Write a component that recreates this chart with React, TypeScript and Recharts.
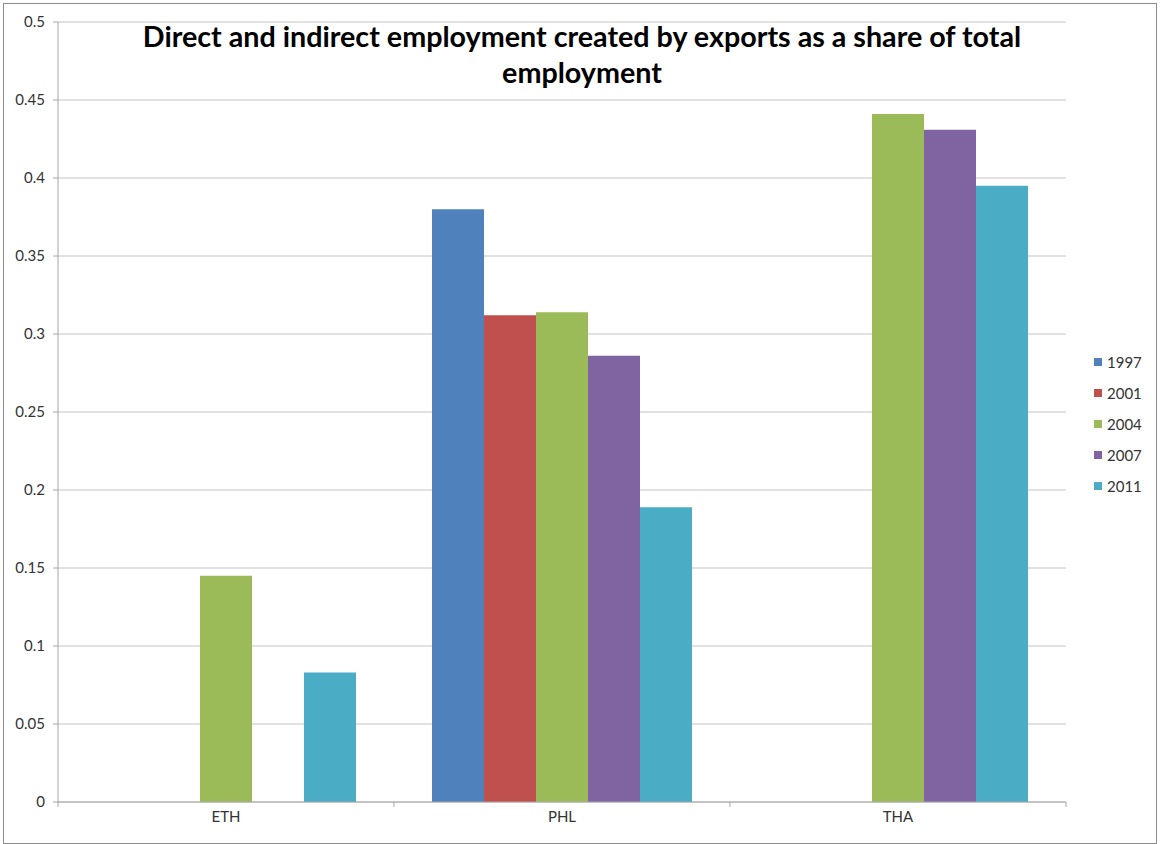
import React from 'react'
import { BarChart, Bar, XAxis, YAxis, CartesianGrid, Legend } from 'recharts'

const countries = ['ETH', 'PHL', 'THA']
const years = ['1997', '2001', '2004', '2007', '2011']
const colors = ['#4F81BD', '#C0504D', '#9BBB59', '#8064A2', '#4BACC6']

// one array per year, in the order of countries (null = no bar)
const v1997 = [null, 0.380, null]
const v2001 = [null, 0.312, null]
const v2004 = [0.145, 0.314, 0.441]
const v2007 = [null, 0.286, 0.431]
const v2011 = [0.083, 0.189, 0.395]

const yTicks = [0, 0.05, 0.1, 0.15, 0.2, 0.25, 0.3, 0.35, 0.4, 0.45, 0.5]

const series = [v1997, v2001, v2004, v2007, v2011]
const data = countries.map((c, i) => {
  const row: any = { name: c }
  years.forEach((y, k) => {
    row[y] = series[k][i]
  })
  return row
})

const W = 1160
const H = 844
const margin = { top: 22, right: 94, bottom: 0, left: 0 }
const Y_W = 58
const X_H = 42
const PLOT_BOTTOM = H - X_H
const HALF_BAND = (W - margin.right - Y_W) / countries.length / 2

const font = 'Lato, "Open Sans", sans-serif'
const tickFont = 15

const XTick = (props: any) => {
  const { x, payload, index } = props
  return (
    <g>
      <line x1={x - HALF_BAND} x2={x - HALF_BAND} y1={PLOT_BOTTOM} y2={PLOT_BOTTOM + 5} stroke="#a6a6a6" />
      {index === countries.length - 1 && (
        <line x1={x + HALF_BAND} x2={x + HALF_BAND} y1={PLOT_BOTTOM} y2={PLOT_BOTTOM + 5} stroke="#a6a6a6" />
      )}
      <text x={x} y={PLOT_BOTTOM + 20} textAnchor="middle" fontSize={tickFont} fill="#333" fontFamily={font}>
        {payload.value}
      </text>
    </g>
  )
}

const YTick = (props: any) => {
  const { y, payload } = props
  return (
    <g>
      <line x1={Y_W - 5} x2={Y_W} y1={y} y2={y} stroke="#a6a6a6" />
      <text
        x={Y_W - 13}
        y={y}
        dy={5}
        textAnchor="end"
        fontSize={tickFont}
        fill="#333"
        fontFamily={font}
      >
        {payload.value}
      </text>
    </g>
  )
}

const renderLegend = () => (
  <div style={{ fontFamily: font, fontSize: tickFont, color: '#333' }}>
    {years.map((y, i) => (
      <div key={y} style={{ display: 'flex', alignItems: 'center', height: 31 }}>
        <span style={{ display: 'inline-block', width: 8, height: 8, background: colors[i], marginRight: 5 }} />
        {y}
      </div>
    ))}
  </div>
)

export default function App() {
  return (
    <div style={{ position: 'absolute', left: 0, top: 0, width: W, height: H, background: '#fff' }}>
      <div
        style={{
          position: 'absolute',
          left: 3,
          top: 3,
          width: W - 6,
          height: H - 3,
          border: '1px solid #8c8c8c',
          boxSizing: 'border-box'
        }}
      />
      <BarChart width={W} height={H} data={data} margin={margin} barGap={0} barCategoryGap={38}>
        <CartesianGrid vertical={false} stroke="#c4c4c4" />
        <XAxis
          dataKey="name"
          height={X_H}
          stroke="#a6a6a6"
          tickLine={false}
          tick={<XTick />}
          interval={0}
        />
        <YAxis
          width={Y_W}
          domain={[0, 0.5]}
          ticks={yTicks}
          stroke="#a6a6a6"
          tickLine={false}
          tick={<YTick />}
          interval={0}
        />
        <Legend
          layout="vertical"
          align="center"
          verticalAlign="middle"
          wrapperStyle={{ left: 1094, top: 346, width: 'auto' }}
          content={renderLegend}
        />
        {years.map((y, i) => (
          <Bar key={y} dataKey={y} fill={colors[i]} isAnimationActive={false} />
        ))}
      </BarChart>
      <div
        style={{
          position: 'absolute',
          left: 80,
          top: 18,
          width: 1004,
          textAlign: 'center',
          fontFamily: font,
          fontWeight: 'bold',
          fontSize: 28.7,
          lineHeight: '36px',
          color: '#000'
        }}
      >
        Direct and indirect employment created by exports as a share of total
        <br />
        employment
      </div>
    </div>
  )
}
